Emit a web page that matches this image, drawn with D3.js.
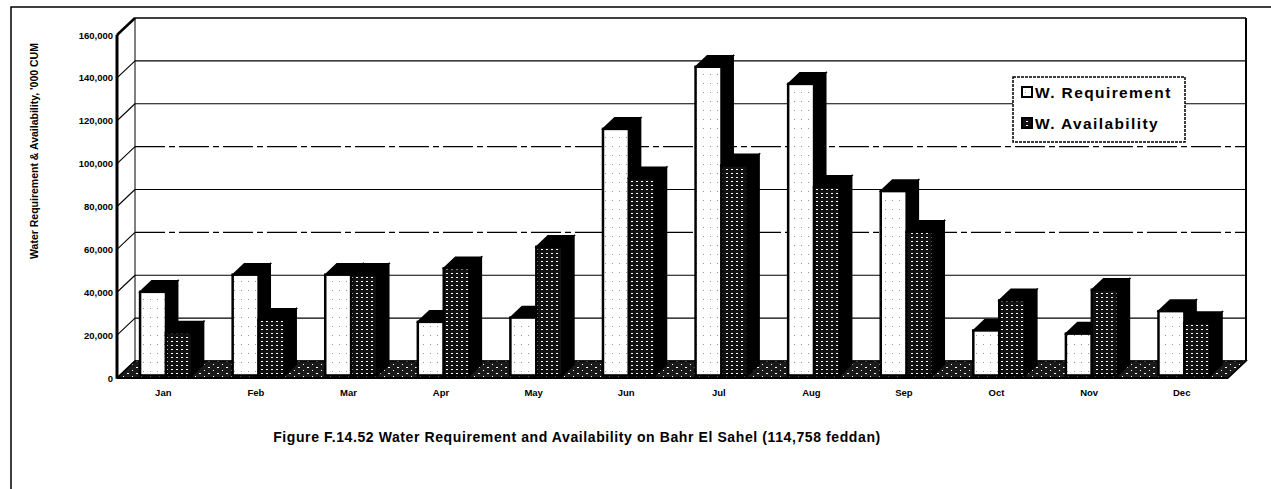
<!DOCTYPE html>
<html><head><meta charset="utf-8">
<script src="https://cdn.jsdelivr.net/npm/d3@7"></script>
<style>
html,body{margin:0;padding:0;background:#fff;}
svg{display:block;font-family:"Liberation Sans",Arial,sans-serif;}
</style></head>
<body>
<svg id="c" width="1271" height="489"></svg>
<script>
const months = ["Jan","Feb","Mar","Apr","May","Jun","Jul","Aug","Sep","Oct","Nov","Dec"];
const series = ["W. Requirement","W. Availability"];
const requirement = [39000,47000,47000,25000,27000,115000,144000,136000,86000,21000,19500,30000];
const availability = [20000,26000,47000,50000,60000,92000,98000,88000,67000,35000,40000,24500];
const yTicks = [0,20000,40000,60000,80000,100000,120000,140000,160000];
const titleText = "Figure F.14.52 Water Requirement and Availability on Bahr El Sahel (114,758 feddan)";
const yTitle = "Water Requirement & Availability, '000 CUM";

const svg = d3.select("#c");
const DX = 18, DY = -17, F1 = 0.15, F2 = 0.8;
const x0 = d3.scaleBand().domain(months).range([117,1228]).paddingInner(0.44).paddingOuter(0.22);
const x1 = d3.scaleBand().domain(series).range([0, x0.bandwidth()]);
const y = d3.scaleLinear().domain([0,160000]).range([378,35]);

// patterns
const defs = svg.append("defs");
const pr = defs.append("pattern").attr("id","pReq").attr("patternUnits","userSpaceOnUse").attr("width",7).attr("height",9);
pr.append("rect").attr("width",7).attr("height",9).attr("fill","#fff");
pr.append("rect").attr("x",3).attr("y",2).attr("width",1).attr("height",1).attr("fill","#999");
const pa = defs.append("pattern").attr("id","pAv").attr("patternUnits","userSpaceOnUse").attr("width",5).attr("height",4);
pa.append("rect").attr("width",5).attr("height",4).attr("fill","#111");
pa.append("rect").attr("x",1).attr("y",1).attr("width",2).attr("height",1).attr("fill","#fff");
const pf = defs.append("pattern").attr("id","pFl").attr("patternUnits","userSpaceOnUse").attr("width",9).attr("height",6);
pf.append("rect").attr("width",9).attr("height",6).attr("fill","#1a1a1a");
pf.append("rect").attr("x",1).attr("y",1).attr("width",2).attr("height",1).attr("fill","#fff");
pf.append("rect").attr("x",6).attr("y",4).attr("width",1).attr("height",1).attr("fill","#fff");

// outer frame
svg.append("path").attr("d","M11,489V7H1271").attr("fill","none").attr("stroke","#000").attr("stroke-width",1.5);

const xL = x0.range()[0], xR = x0.range()[1];
// back wall gridlines
yTicks.forEach(v => {
  const yy = y(v) + DY;
  const g = svg.append("line").attr("x1",xL+DX).attr("x2",xR+DX).attr("y1",yy).attr("y2",yy)
    .attr("stroke","#000").attr("stroke-width", v===160000?1.6:1.1);
  if (v===100000 || v===60000) g.attr("stroke-dasharray","30,4,6,4");
  // side wall lines
  svg.append("line").attr("x1",xL).attr("y1",y(v)).attr("x2",xL+DX).attr("y2",yy)
    .attr("stroke","#000").attr("stroke-width",1.1);
});
// back wall edges
svg.append("line").attr("x1",xL+DX).attr("x2",xL+DX).attr("y1",y(160000)+DY).attr("y2",y(0)+DY).attr("stroke","#000").attr("stroke-width",1);
svg.append("line").attr("x1",xR+DX).attr("x2",xR+DX).attr("y1",y(160000)+DY).attr("y2",y(0)+DY).attr("stroke","#000").attr("stroke-width",2);

// floor
svg.append("path").attr("d",`M${xL},${y(0)}L${xR},${y(0)}L${xR+DX},${y(0)+DY}L${xL+DX},${y(0)+DY}Z`)
  .attr("fill","url(#pFl)").attr("stroke","#000").attr("stroke-width",1.5);

// bars
const ddx = (F2-F1)*DX, ddy = (F2-F1)*DY;
months.forEach((m,i) => {
  [[series[0],requirement[i],"url(#pReq)"],[series[1],availability[i],"url(#pAv)"]].forEach(([s,v,fill]) => {
    const xf = x0(m) + x1(s) + F1*DX, w = x1.bandwidth();
    const yt = y(v) + F1*DY, yb = y(0) + F1*DY;
    svg.append("path").attr("d",`M${xf+w},${yt}L${xf+w+ddx},${yt+ddy}L${xf+w+ddx},${yb+ddy}L${xf+w},${yb}Z`)
      .attr("fill","#000").attr("stroke","#000").attr("stroke-width",1.5);
    svg.append("path").attr("d",`M${xf},${yt}L${xf+ddx},${yt+ddy}L${xf+w+ddx},${yt+ddy}L${xf+w},${yt}Z`)
      .attr("fill","#000").attr("stroke","#000").attr("stroke-width",1.5);
    svg.append("rect").attr("x",xf).attr("y",yt).attr("width",w).attr("height",yb-yt)
      .attr("fill",fill).attr("stroke","#000").attr("stroke-width",2.5);
  });
});

// front axis + front floor edge
svg.append("line").attr("x1",xL).attr("x2",xL).attr("y1",y(160000)).attr("y2",y(0)).attr("stroke","#000").attr("stroke-width",3);
svg.append("line").attr("x1",xL).attr("y1",y(160000)).attr("x2",xL+DX).attr("y2",y(160000)+DY).attr("stroke","#000").attr("stroke-width",2.5);
svg.append("line").attr("x1",xL).attr("x2",xR).attr("y1",y(0)).attr("y2",y(0)).attr("stroke","#000").attr("stroke-width",2);

// y tick labels
svg.append("g").selectAll("text").data(yTicks).join("text")
  .attr("x",xL-4).attr("y",d=>y(d)+3.5).attr("text-anchor","end")
  .attr("font-size",9.5).attr("font-weight","bold").text(d=>d3.format(",")(d));

// x labels
svg.append("g").selectAll("text").data(months).join("text")
  .attr("x",d=>x0(d)+x0.bandwidth()/2).attr("y",396).attr("text-anchor","middle")
  .attr("font-size",9.5).attr("font-weight","bold").text(d=>d);

// y title
svg.append("text").attr("transform","translate(38,151) rotate(-90)").attr("text-anchor","middle")
  .attr("font-size",10.5).attr("font-weight","bold").text(yTitle);

// title
svg.append("text").attr("x",577).attr("y",442).attr("text-anchor","middle")
  .attr("font-size",14).attr("font-weight","bold").attr("letter-spacing",0.6).text(titleText);

// legend
const lg = svg.append("g");
lg.append("rect").attr("x",1013).attr("y",77).attr("width",172).attr("height",65)
  .attr("fill","#fff").attr("stroke","#000").attr("stroke-width",1.5).attr("stroke-dasharray","3,1");
[["url(#pReq)",0],["url(#pAv)",1]].forEach(([f,k]) => {
  const yy = 98 + k*31;
  lg.append("rect").attr("x",1022).attr("y",yy-11).attr("width",10).attr("height",10)
    .attr("fill",f).attr("stroke","#000").attr("stroke-width",2);
  lg.append("text").attr("x",1035).attr("y",yy).attr("font-size",15.5).attr("font-weight","bold")
    .attr("letter-spacing",1.4).text(series[k]);
});
</script>
</body></html>
